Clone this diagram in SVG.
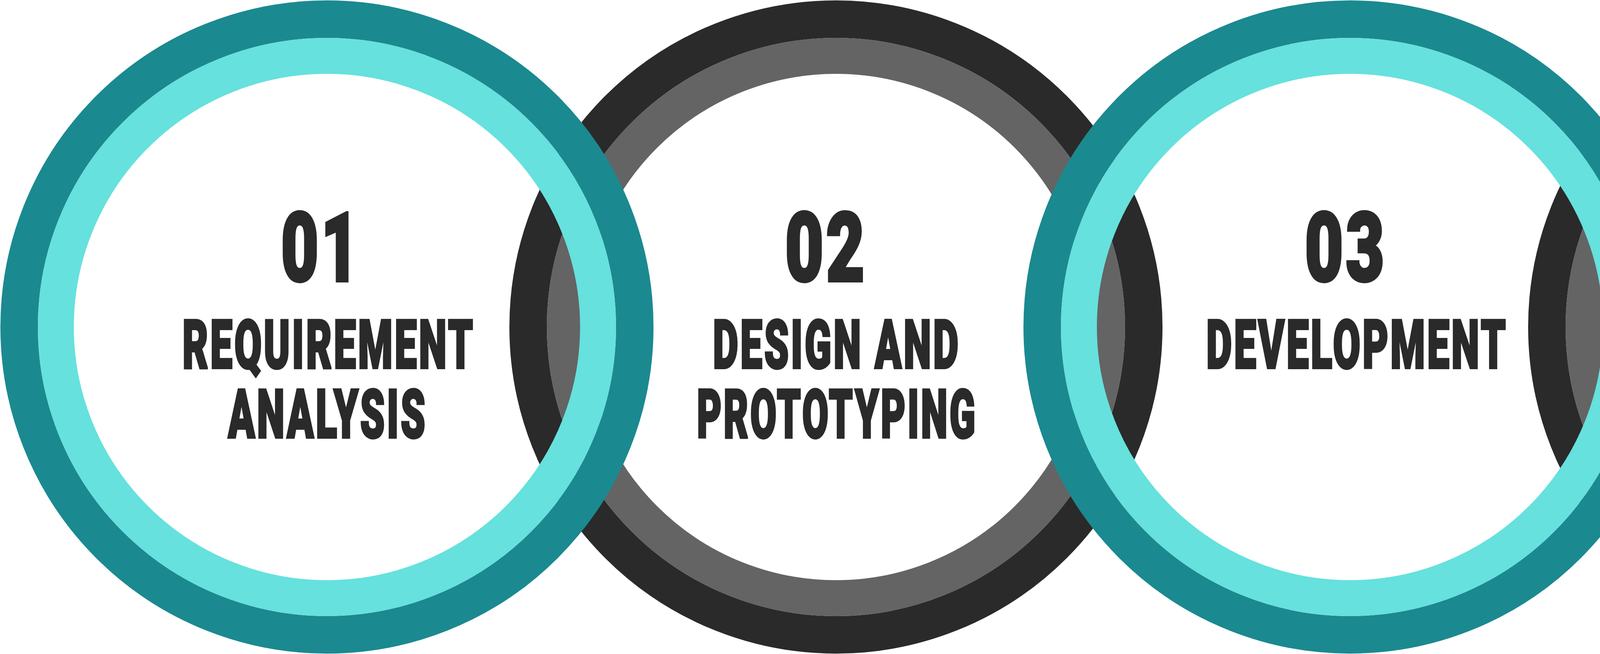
<svg xmlns="http://www.w3.org/2000/svg" width="6880" height="1674" viewBox="0 0 6880 1674">
  <style>
    .ring { fill: none; }
    .tO { stroke: #1B8990; stroke-width: 96; }
    .tI { stroke: #66E1DD; stroke-width: 92; }
    .dO { stroke: #2A2A2A; stroke-width: 96; }
    .dI { stroke: #646464; stroke-width: 92; }
    text { font-family: Roboto, "Liberation Sans", Arial, sans-serif; font-weight: 900; fill: #2A2A2A; stroke: #2A2A2A; stroke-linejoin: miter; text-anchor: middle; }
    .num { font-size: 245px; stroke-width: 8; letter-spacing: 10px; }
    .lbl { font-size: 172px; stroke-width: 6; letter-spacing: 9px; }
  </style>
  <rect width="6880" height="1674" fill="#FFFFFF"/>
  <g id="connectors"/>
  <g id="node2">
    <circle class="ring dO" cx="2140" cy="837" r="788"/>
    <circle class="ring dI" cx="2140" cy="837" r="694"/>
    <text class="num" x="2115" y="719" textLength="210" lengthAdjust="spacingAndGlyphs">02</text>
    <text class="lbl"><tspan x="2142" y="942" textLength="634" lengthAdjust="spacingAndGlyphs">DESIGN AND</tspan><tspan x="2143" y="1120" textLength="718" lengthAdjust="spacingAndGlyphs">PROTOTYPING</tspan></text>
  </g>
  <g id="node4">
    <circle class="ring dO" cx="4748" cy="837" r="788"/>
    <circle class="ring dI" cx="4748" cy="837" r="694"/>
    <text class="num" x="4740" y="719" textLength="210" lengthAdjust="spacingAndGlyphs">04</text>
    <text class="lbl" x="4736" y="942" textLength="428" lengthAdjust="spacingAndGlyphs">TESTING</text>
  </g>
  <g id="node1">
    <circle class="ring tO" cx="837" cy="837" r="788"/>
    <circle class="ring tI" cx="837" cy="837" r="694"/>
    <text class="num" x="822" y="719" textLength="205" lengthAdjust="spacingAndGlyphs">01</text>
    <text class="lbl"><tspan x="841.5" y="942" textLength="749" lengthAdjust="spacingAndGlyphs">REQUIREMENT</tspan><tspan x="839" y="1120" textLength="510" lengthAdjust="spacingAndGlyphs">ANALYSIS</tspan></text>
  </g>
  <g id="node3">
    <circle class="ring tO" cx="3456" cy="837" r="788"/>
    <circle class="ring tI" cx="3456" cy="837" r="694"/>
    <text class="num" x="3445.5" y="719" textLength="210" lengthAdjust="spacingAndGlyphs">03</text>
    <text class="lbl" x="3474" y="942" textLength="772" lengthAdjust="spacingAndGlyphs">DEVELOPMENT</text>
  </g>
  <g id="node5">
    <circle class="ring tO" cx="6043" cy="837" r="788"/>
    <circle class="ring tI" cx="6043" cy="837" r="694"/>
    <text class="num" x="6082.5" y="719" textLength="210" lengthAdjust="spacingAndGlyphs">05</text>
    <text class="lbl"><tspan x="6082" y="942" textLength="819" lengthAdjust="spacingAndGlyphs">DEPLOYMENT &amp;</tspan><tspan x="6081" y="1120" textLength="762" lengthAdjust="spacingAndGlyphs">MAINTENANCE</tspan></text>
  </g>
</svg>
